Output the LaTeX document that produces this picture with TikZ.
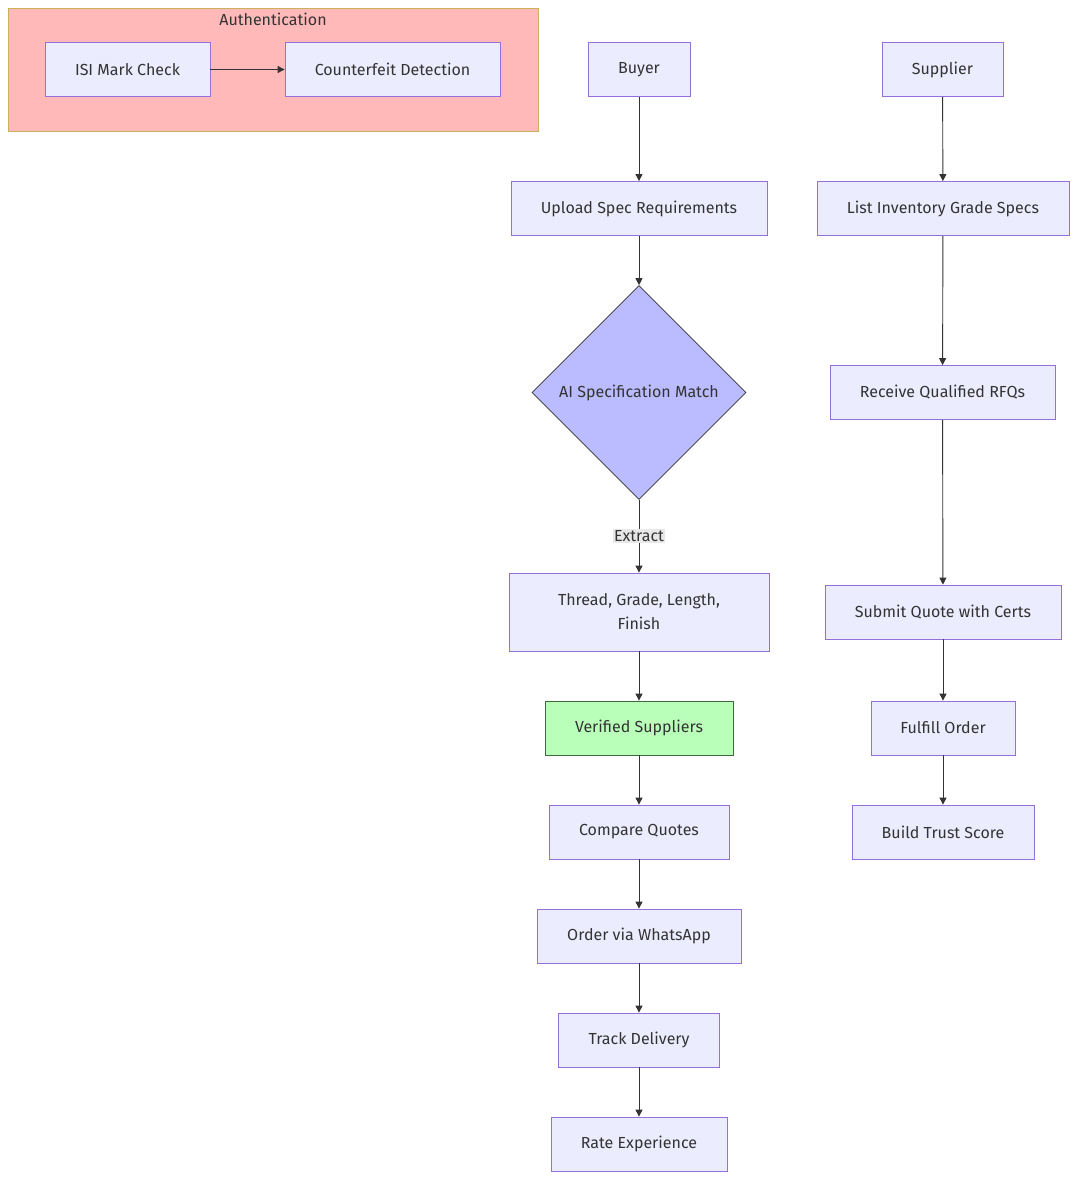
\documentclass[tikz,border=0pt]{standalone}
\usepackage{fontspec}
\setmainfont{Fira Sans}
\usetikzlibrary{shapes.geometric}
\usetikzlibrary{arrows.meta}
\definecolor{boxfill}{HTML}{ECECFF}
\definecolor{boxline}{HTML}{9370DB}
\definecolor{ink}{HTML}{333333}
\definecolor{authfill}{HTML}{FFB9B9}
\definecolor{authline}{HTML}{C9B25D}
\definecolor{okfill}{HTML}{B9FFB9}
\definecolor{okline}{HTML}{3A6B3A}
\definecolor{diafill}{HTML}{BBBBFF}
\tikzset{
  box/.style={rectangle, draw=boxline, fill=boxfill, line width=0.8pt, minimum height=54pt, inner xsep=0pt, text=ink, font=\fontsize{16}{24}\selectfont, align=center},
  flow/.style={-{Triangle[length=7pt,width=7pt]}, ink, line width=0.9pt},
}
\begin{document}
\begin{tikzpicture}[x=1pt, y=-1pt]
	\useasboundingbox (0,0) rectangle (1077,1180);
	% Authentication cluster
	\draw[authline, fill=authfill, line width=0.8pt] (8,8) rectangle (538,131);
	\node[text=ink, font=\fontsize{16}{20}\selectfont] (authtitle) at (273,19) {Authentication};
	% Nodes
	\node[box, minimum width=165pt] (isi) at (127.5,69.5) {ISI Mark Check};
	\node[box, minimum width=215pt] (fake) at (392.5,69.5) {Counterfeit Detection};
	\node[box, minimum width=102pt] (buyer) at (639,69.5) {Buyer};
	\node[box, minimum width=121pt] (supplier) at (942.5,69.5) {Supplier};
	\node[box, minimum width=256pt] (upload) at (639,208.5) {Upload Spec Requirements};
	\node[box, minimum width=252pt] (list) at (943,208.5) {List Inventory Grade Specs};
	\node[diamond, draw=ink, fill=diafill, line width=0.6pt, minimum width=214pt, minimum height=214pt, inner sep=0pt, text=ink, font=\fontsize{16}{20}\selectfont] (match) at (639,392.5) {AI Specification Match};
	\node[box, minimum width=225pt] (rfq) at (942.5,392.5) {Receive Qualified RFQs};
	\node[box, minimum width=260pt, minimum height=78pt] (thread) at (639,612) {Thread, Grade, Length,\\Finish};
	\node[box, minimum width=236pt] (quote) at (943,612) {Submit Quote with Certs};
	\node[box, minimum width=188pt, draw=okline, fill=okfill] (verified) at (639,728) {Verified Suppliers};
	\node[box, minimum width=144pt] (fulfill) at (943,728) {Fulfill Order};
	\node[box, minimum width=180pt] (compare) at (639,832) {Compare Quotes};
	\node[box, minimum width=182pt] (trust) at (943,832) {Build Trust Score};
	\node[box, minimum width=204pt] (order) at (639,936) {Order via WhatsApp};
	\node[box, minimum width=161pt] (track) at (639,1040) {Track Delivery};
	\node[box, minimum width=176pt] (rate) at (639,1144) {Rate Experience};
	% Edges
	\draw[flow] (isi) -- (fake);
	\draw[flow] (buyer) -- (upload);
	\draw[flow] (upload) -- (match);
	\draw[flow] (match) -- (thread) node[midway, fill=black!9, inner sep=1.5pt, text=ink, font=\fontsize{16}{20}\selectfont] {Extract};
	\draw[flow] (thread) -- (verified);
	\draw[flow] (verified) -- (compare);
	\draw[flow] (compare) -- (order);
	\draw[flow] (order) -- (track);
	\draw[flow] (track) -- (rate);
	\draw[flow] (supplier) -- (list);
	\draw[flow] (list) -- (rfq);
	\draw[flow] (rfq) -- (quote);
	\draw[flow] (quote) -- (fulfill);
	\draw[flow] (fulfill) -- (trust);
\end{tikzpicture}
\end{document}
